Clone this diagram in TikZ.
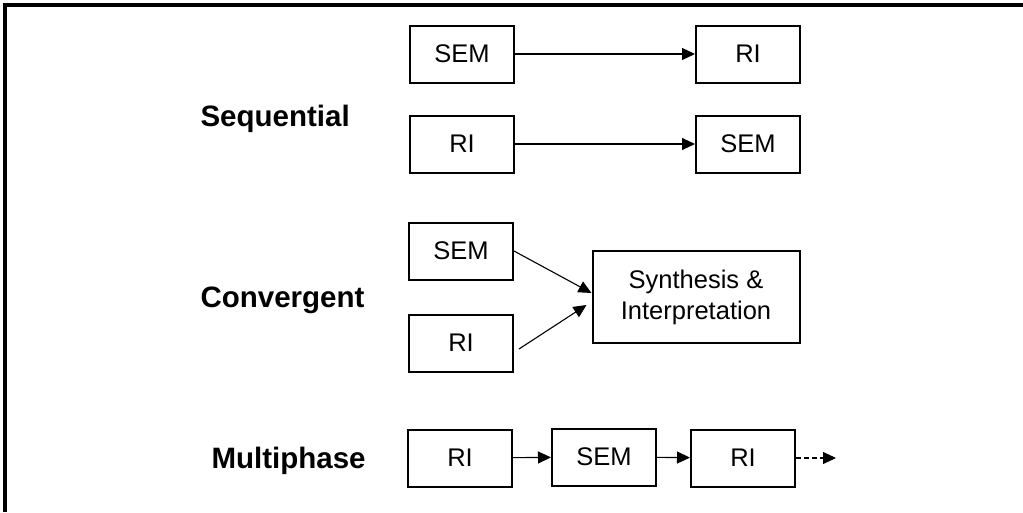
\documentclass[tikz,border=0pt]{standalone}
\usepackage{fontspec}
\setmainfont{Liberation Sans}
\usetikzlibrary{arrows.meta}
\begin{document}
\begin{tikzpicture}[x=1pt,y=-1pt,
    box/.style={draw,line width=2pt,minimum width=104pt,minimum height=57pt,
      inner sep=0pt,font=\fontsize{25.5}{30}\selectfont},
    design/.style={anchor=base west,font=\fontsize{29.5}{34}\selectfont\bfseries},
    link/.style={line width=1.1pt,-{Triangle[length=13pt,width=12pt]}}]
  \useasboundingbox (0,0) rectangle (1023,512);
  \draw[line width=3.5pt] (5,512) -- (5,5) -- (1023,5);
  % design names
  \node[design] (seq) at (197,126) {Sequential};
  \node[design] (conv) at (197,307) {Convergent};
  \node[design] (multi) at (208,468) {Multiphase};
  % sequential
  \draw
    (462,54) node[box] (sem1){SEM}
    (748,54) node[box] (ri1){RI}
    (462,144) node[box] (ri2){RI}
    (748,144) node[box] (sem2){SEM};
  % convergent
  \draw
    (461,251) node[box] (sem3){SEM}
    (461,343) node[box] (ri3){RI}
    (696,297) node[box,minimum width=207pt,minimum height=92pt,align=center,
      font=\fontsize{25.5}{31}\selectfont] (syn){Synthesis \&\\Interpretation};
  % multiphase
  \draw
    (460,458) node[box] (ri4){RI}
    (604,457) node[box] (sem4){SEM}
    (743,458) node[box] (ri5){RI};
  \coordinate (more) at (836,458);
  \begin{scope}[link]
    \draw (sem1) to (ri1);
    \draw (ri2) to (sem2);
    \draw (sem3.east) to ([yshift=4pt]syn.west);
    \draw ([xshift=5pt,yshift=-6pt]ri3.east) to ([xshift=-5pt,yshift=-8pt]syn.west);
    \draw (ri4) to (sem4);
    \draw (sem4) to (ri5);
    \draw[dash pattern=on 5pt off 3pt] (ri5) to (more);
  \end{scope}
\end{tikzpicture}
\end{document}
